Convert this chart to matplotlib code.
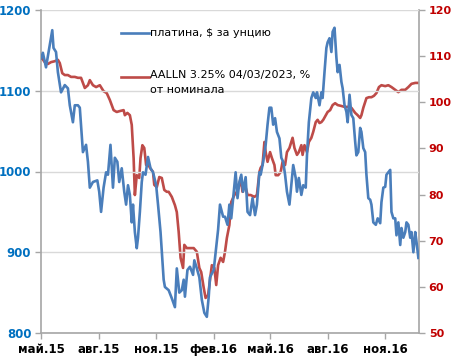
import numpy as np
import matplotlib
matplotlib.use("Agg")
import matplotlib.pyplot as plt
import matplotlib.dates as mdates
from matplotlib.lines import Line2D

# days since 2015-05-01 and platinum price, $ per ounce
plat_days = [0, 3, 8, 14, 18, 20, 24, 27, 32, 38, 43, 46, 51, 54, 59, 62, 67, 72, 75, 78,
             83, 90, 93, 96, 100, 104, 107, 111, 115, 118, 122, 125, 129, 133, 136, 139, 142, 145, 147, 150,
             153, 155, 158, 161, 163, 167, 171, 175, 179, 184, 187, 191, 196, 198, 204, 209, 214, 217, 221, 225,
             228, 230, 234, 238, 243, 245, 249, 253, 257, 261, 265, 268, 270, 276, 280, 283, 286, 291, 294, 298,
             301, 304, 308, 311, 314, 317, 320, 323, 327, 330, 334, 338, 342, 345, 349, 351, 355, 359, 362, 365,
             368, 371, 374, 377, 381, 384, 387, 390, 393, 397, 403, 407, 409, 412, 416, 419, 423, 425, 428, 432,
             435, 439, 441, 445, 448, 450, 453, 456, 458, 461, 464, 466, 469, 472, 474, 477, 480, 482, 485, 488,
             490, 493, 496, 499, 502, 504, 507, 510, 512, 515, 518, 520, 523, 526, 528, 531, 535, 538, 542, 544,
             547, 550, 552, 555, 558, 560, 563, 566, 568, 571, 574, 576, 579, 582, 584, 587, 590, 592, 595, 598,
             600, 603]
plat_vals = [1140, 1147, 1129, 1157, 1175, 1153, 1148, 1123, 1098, 1107, 1103, 1082, 1061, 1082, 1082, 1079, 1024, 1033, 1012, 980,
             987, 989, 975, 950, 980, 999, 996, 1033, 980, 1017, 1012, 987, 1004, 975, 959, 983, 971, 937, 959, 925,
             905, 918, 950, 987, 999, 996, 1018, 1004, 999, 983, 959, 925, 866, 857, 853, 843, 832, 880, 850, 853,
             866, 845, 878, 882, 872, 890, 880, 869, 841, 825, 820, 845, 869, 878, 906, 928, 959, 944, 944, 934,
             959, 942, 975, 999, 967, 987, 996, 975, 993, 950, 946, 967, 946, 959, 999, 996, 1012, 1033, 1058, 1079,
             1079, 1058, 1066, 1049, 1041, 1017, 1012, 996, 975, 959, 1008, 992, 975, 992, 971, 983, 980, 1020, 1061, 1091,
             1098, 1091, 1098, 1082, 1098, 1091, 1123, 1153, 1160, 1165, 1148, 1173, 1178, 1141, 1123, 1132, 1111, 1103, 1082, 1074,
             1061, 1095, 1070, 1066, 1037, 1020, 1024, 1054, 1049, 1029, 1024, 996, 967, 965, 959, 937, 934, 942, 936, 962,
             980, 981, 996, 999, 1002, 950, 942, 942, 921, 937, 909, 930, 918, 925, 937, 934, 918, 925, 900, 925,
             913, 893]

# days since 2015-05-01 and AALLN 3.25% 04/03/2023 price, % of par
bond_days = [0, 6, 11, 16, 22, 27, 30, 34, 38, 43, 48, 54, 59, 64, 70, 75, 78, 83, 88, 94,
             100, 105, 110, 116, 121, 126, 132, 134, 138, 142, 145, 148, 150, 153, 157, 159, 162, 165, 168, 172,
             174, 179, 181, 185, 189, 193, 197, 201, 204, 209, 214, 217, 220, 223, 227, 229, 233, 239, 244, 249,
             253, 256, 260, 263, 267, 271, 273, 277, 280, 283, 287, 291, 294, 297, 301, 304, 309, 313, 317, 319,
             322, 326, 330, 335, 341, 345, 349, 351, 354, 357, 359, 362, 366, 369, 373, 375, 379, 383, 386, 390,
             393, 397, 402, 405, 409, 412, 416, 418, 421, 425, 428, 432, 435, 439, 442, 445, 448, 451, 455, 458,
             462, 466, 470, 474, 480, 485, 491, 496, 502, 506, 510, 512, 515, 518, 520, 524, 528, 532, 536, 540,
             544, 550, 555, 560, 566, 571, 576, 582, 587, 592, 598, 603]
bond_vals = [109.8, 108.7, 108.3, 108.7, 108.9, 109.2, 108.5, 106.3, 105.9, 105.9, 105.5, 105.5, 105.3, 105.3, 103.1, 103.7, 104.8, 103.7, 103.3, 103.7,
             102.4, 102.0, 100.5, 98.3, 97.9, 98.1, 98.3, 97.2, 97.7, 97.2, 95.1, 87.9, 79.9, 84.2, 83.6, 87.9, 90.7, 90.1, 86.4, 86.4,
             85.8, 84.9, 82.1, 81.6, 83.8, 83.6, 81.0, 80.6, 80.6, 79.5, 77.7, 76.2, 71.9, 66.3, 64.1, 69.1, 68.4, 68.4, 68.4, 67.6,
             64.1, 63.2, 59.8, 57.6, 58.2, 62.6, 64.7, 64.1, 60.4, 64.7, 66.3, 65.4, 67.6, 70.6, 73.4, 78.4, 79.9, 80.6, 82.1, 83.6,
             80.6, 82.1, 79.9, 79.9, 79.5, 79.9, 84.9, 85.8, 86.4, 91.4, 89.2, 87.1, 89.2, 87.9, 86.4, 84.2, 84.2, 84.9, 87.1, 86.4,
             89.2, 90.1, 92.3, 90.1, 88.6, 89.2, 90.7, 88.6, 90.7, 89.2, 91.4, 92.3, 93.6, 95.7, 96.2, 95.5, 95.7, 96.2, 97.2, 97.9,
             98.3, 99.4, 99.8, 99.4, 99.2, 99.0, 99.0, 98.8, 97.7, 97.2, 96.6, 97.2, 98.8, 100.1, 100.9, 101.1, 101.1, 101.4, 102.0, 103.3,
             103.7, 103.5, 103.7, 103.3, 102.7, 102.2, 102.7, 102.7, 103.3, 104.0, 104.2, 104.2]

tick_dates = ["2015-05-01", "2015-08-01", "2015-11-01", "2016-02-01",
              "2016-05-01", "2016-08-01", "2016-11-01"]
tick_labels = ["май.15", "авг.15", "ноя.15", "фев.16", "май.16", "авг.16", "ноя.16"]

plat_label = "платина, $ за унцию"
bond_label = "AALLN 3.25% 04/03/2023, %\nот номинала"

start = np.datetime64("2015-05-01")
plat_x = start + np.array(plat_days).astype("timedelta64[D]")
bond_x = start + np.array(bond_days).astype("timedelta64[D]")

blue = "#4A7EBB"
red = "#BE4B48"
grey = "#A6A6A6"

fig = plt.figure(figsize=(4.51, 3.64), dpi=100)
ax = fig.add_axes([41 / 451, 1 - 333 / 364, 378 / 451, 323 / 364])
ax2 = ax.twinx()

ax.plot(plat_x, plat_vals, color=blue, lw=1.9, zorder=3)
ax2.plot(bond_x, bond_vals, color=red, lw=1.9, zorder=2)
ax.set_zorder(ax2.get_zorder() + 1)
ax.patch.set_visible(False)

ax.set_ylim(800, 1200)
ax.set_yticks([800, 900, 1000, 1100, 1200])
ax2.set_ylim(50, 120)
ax2.set_yticks([50, 60, 70, 80, 90, 100, 110, 120])
ax.set_xlim(start, start + np.timedelta64(604, "D"))

ax.xaxis.set_major_locator(plt.FixedLocator(
    mdates.date2num(np.array(tick_dates, dtype="datetime64[D]"))))
ax.set_xticklabels(tick_labels)

ax.grid(axis="y", color="#D9D9D9", lw=1.0)
ax.set_axisbelow(True)

for a in (ax, ax2):
    a.spines["top"].set_visible(False)
    for s in ("left", "right", "bottom"):
        a.spines[s].set_color(grey)
        a.spines[s].set_linewidth(1.2)
ax.spines["right"].set_visible(False)
ax2.spines["left"].set_visible(False)
ax2.spines["bottom"].set_visible(False)

ax.tick_params(axis="y", colors=grey, labelcolor="#0070C0", length=4, width=1, pad=3, labelsize=8.5)
ax.tick_params(axis="x", colors=grey, labelcolor="black", length=4, width=1, pad=3, labelsize=8.5)
ax2.tick_params(axis="y", colors=grey, labelcolor="#C00000", length=4, width=1, pad=3, labelsize=8)
for lbl in ax.get_yticklabels() + ax.get_xticklabels() + ax2.get_yticklabels():
    lbl.set_fontweight("bold")

# legend drawn by hand so the red key sits on the first text line
tr = ax.transAxes
ax.add_line(Line2D([0.212, 0.286], [0.928, 0.928], color=blue, lw=1.9, transform=tr, clip_on=False))
ax.text(0.289, 0.928, plat_label, transform=tr, fontsize=8, va="center", ha="left")
ax.add_line(Line2D([0.212, 0.286], [0.792, 0.792], color=red, lw=1.9, transform=tr, clip_on=False))
ax.text(0.289, 0.813, bond_label, transform=tr, fontsize=8, va="top", ha="left", linespacing=1.55)

fig.savefig("out.png", dpi=100)
